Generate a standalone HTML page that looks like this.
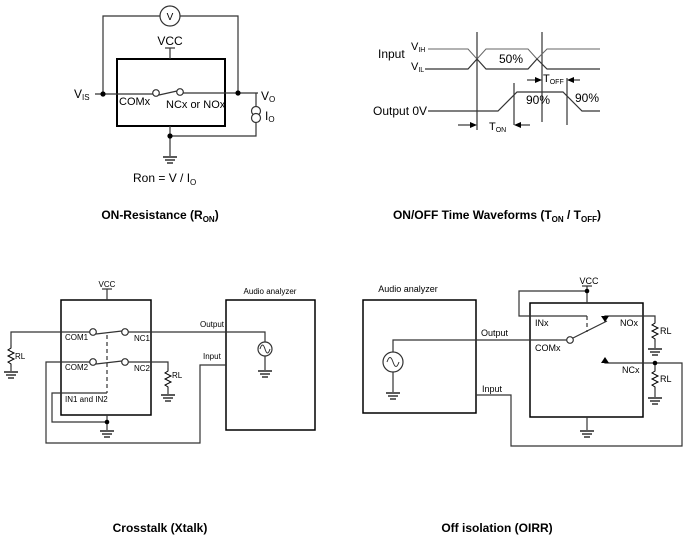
<!DOCTYPE html>
<html><head><meta charset="utf-8"><style>
html,body{margin:0;padding:0;background:#fff;}
svg{display:block;font-family:"Liberation Sans",Arial,sans-serif;}
</style></head><body>
<svg width="694" height="538" viewBox="0 0 694 538" xmlns="http://www.w3.org/2000/svg">
<defs>
<g id="gnd"><line x1="-7" y1="0" x2="7" y2="0" stroke="#000" stroke-width="1.3"/><line x1="-5" y1="3" x2="5" y2="3" stroke="#000" stroke-width="1.2"/><line x1="-3" y1="6" x2="3" y2="6" stroke="#000" stroke-width="1.2"/></g>
<g id="res"><polyline points="0,0 0,3 -3,5 3,8 -3,11 3,14 -3,17 0,19 0,22" fill="none" stroke="#000" stroke-width="1"/></g>
</defs>
<g fill="none" stroke="#333" stroke-width="1.2">
<polyline points="103,94 103,16 160,16"/><polyline points="180,16 238,16 238,94"/>
<circle cx="170" cy="16" r="10" fill="#fff"/>
<rect x="117" y="59" width="108" height="67" stroke="#000" stroke-width="2"/>
<line x1="170" y1="48" x2="170" y2="59"/><line x1="165" y1="48" x2="175" y2="48"/>
<line x1="95" y1="94" x2="153" y2="94"/><line x1="183" y1="93" x2="258" y2="93"/>
<circle cx="156" cy="93" r="3.3"/><circle cx="180" cy="92" r="3.3"/><line x1="159" y1="95" x2="177" y2="91"/>
<polyline points="256,93 256,136 170,136"/>
<circle cx="256" cy="111" r="4.5" fill="#fff"/><circle cx="256" cy="118" r="4.5" fill="#fff"/>
<line x1="170" y1="126" x2="170" y2="156"/>
<line x1="477" y1="32" x2="477" y2="130"/><line x1="542" y1="32" x2="542" y2="122"/>
<polyline points="428,49 468,49 477,59 486,49 528,49 537,59 547,49 600,49" stroke="#666" stroke-width="1"/>
<polyline points="425,69 468,69 477,59 486,69 528,69 537,59 547,69 600,69" stroke="#333"/>
<polyline points="428,111 498,111 517,92 563,92 582,111 600,111"/>
<line x1="514" y1="83" x2="514" y2="125"/><line x1="567" y1="78" x2="567" y2="125"/>
<line x1="458" y1="125" x2="474" y2="125"/><line x1="518" y1="125" x2="530" y2="125"/>
<line x1="527" y1="80" x2="539" y2="80"/><line x1="570" y1="80" x2="580" y2="80"/>
<rect x="61" y="300" width="90" height="115" stroke="#000" stroke-width="1.5"/>
<rect x="226" y="300" width="89" height="130" stroke="#000" stroke-width="1.5"/>
<line x1="107" y1="289" x2="107" y2="300"/><line x1="102" y1="289" x2="112" y2="289"/>
<polyline points="11,345 11,332 90,332"/><circle cx="93" cy="332" r="3.3"/><circle cx="125" cy="332" r="3.3"/><line x1="96" y1="334" x2="122" y2="331"/>
<polyline points="128,332 265,332 265,342"/><circle cx="265" cy="349" r="7"/><line x1="265" y1="356" x2="265" y2="370"/>
<polyline points="90,362 46,362 46,443 200,443 200,365 226,365"/>
<circle cx="93" cy="362" r="3.3"/><circle cx="125" cy="362" r="3.3"/><line x1="96" y1="364" x2="122" y2="361"/>
<polyline points="128,362 168,362 168,368"/>
<line x1="107" y1="335" x2="107" y2="393" stroke-dasharray="4,3"/>
<polyline points="107,393 52,393 52,422 107,422"/><line x1="107" y1="415" x2="107" y2="430"/>
<rect x="363" y="300" width="113" height="113" stroke="#000" stroke-width="1.5"/>
<rect x="530" y="303" width="113" height="114" stroke="#000" stroke-width="1.5"/>
<circle cx="393" cy="362" r="10"/><polyline points="393,352 393,340 567,340"/><line x1="393" y1="372" x2="393" y2="392"/>
<circle cx="570" cy="340" r="3.3"/><line x1="573" y1="338" x2="607" y2="321"/>
<polyline points="476,395 511,395 511,446 682,446 682,363 605,363 605,358"/>
<line x1="587" y1="286" x2="587" y2="303"/><line x1="582" y1="286" x2="592" y2="286"/>
<polyline points="587,291 519,291 519,316 587,316"/><line x1="587" y1="316" x2="587" y2="332" stroke-dasharray="4,3"/>
<polyline points="605,322 605,316 655,316 655,320"/>
<line x1="655" y1="363" x2="655" y2="368"/>
<line x1="587" y1="417" x2="587" y2="430"/>
<line x1="655" y1="342" x2="655" y2="348"/><line x1="655" y1="390" x2="655" y2="397"/>
<line x1="11" y1="367" x2="11" y2="371"/><line x1="168" y1="390" x2="168" y2="394"/>
</g>
<path d="M387,362 q3,-9 6,0 q3,9 6,0" fill="none" stroke="#333"/>
<path d="M260,349 q2.5,-8 5,0 q2.5,8 5,0" fill="none" stroke="#333"/>
<g fill="#000">
<circle cx="103" cy="94" r="2.6"/><circle cx="238" cy="93" r="2.6"/><circle cx="170" cy="136" r="2.6"/>
<circle cx="107" cy="422" r="2.3"/><circle cx="587" cy="291" r="2.3"/><circle cx="655" cy="363" r="2.3"/>
<polygon points="477,125 470,122 470,128"/><polygon points="514,125 521,122 521,128"/>
<polygon points="542,80 535,77 535,83"/><polygon points="567,80 574,77 574,83"/>
<polygon points="605,322 601,316 609,316"/><polygon points="605,357 601,363 609,363"/>
</g>
<use href="#gnd" x="170" y="157"/><use href="#gnd" x="265" y="371"/><use href="#gnd" x="11" y="372"/><use href="#gnd" x="168" y="395"/>
<use href="#gnd" x="107" y="431"/><use href="#gnd" x="393" y="393"/><use href="#gnd" x="587" y="431"/>
<use href="#gnd" x="655" y="349"/><use href="#gnd" x="655" y="398"/>
<use href="#res" x="11" y="345"/><use href="#res" x="168" y="368"/><use href="#res" x="655" y="320"/><use href="#res" x="655" y="368"/>
<g fill="#000" font-size="12">
<text x="170" y="20" font-size="10" text-anchor="middle">V</text>
<text x="170" y="45" text-anchor="middle">VCC</text>
<text x="74" y="98">V<tspan font-size="8" dy="2">IS</tspan></text>
<text x="119" y="105" font-size="11">COMx</text>
<text x="166" y="108" font-size="11">NCx or NOx</text>
<text x="261" y="100">V<tspan font-size="8" dy="2">O</tspan></text>
<text x="265" y="120">I<tspan font-size="8" dy="2">O</tspan></text>
<text x="133" y="182">Ron = V / I<tspan font-size="8" dy="3">O</tspan></text>
<text x="160" y="219" font-weight="bold" text-anchor="middle">ON-Resistance (R<tspan font-size="8" dy="3">ON</tspan><tspan dy="-3">)</tspan></text>
<text x="378" y="58">Input</text>
<text x="411" y="50" font-size="11">V<tspan font-size="7" dy="2">IH</tspan></text>
<text x="411" y="70" font-size="11">V<tspan font-size="7" dy="2">IL</tspan></text>
<text x="499" y="63">50%</text>
<text x="543" y="82" font-size="11">T<tspan font-size="7" dy="2">OFF</tspan></text>
<text x="526" y="104">90%</text>
<text x="575" y="102">90%</text>
<text x="373" y="115">Output  0V</text>
<text x="489" y="130" font-size="11">T<tspan font-size="7" dy="2">ON</tspan></text>
<text x="497" y="219" font-weight="bold" text-anchor="middle">ON/OFF Time Waveforms (T<tspan font-size="8" dy="3">ON</tspan><tspan dy="-3"> / T</tspan><tspan font-size="8" dy="3">OFF</tspan><tspan dy="-3">)</tspan></text>
<g font-size="8">
<text x="107" y="287" text-anchor="middle">VCC</text>
<text x="270" y="294" text-anchor="middle">Audio analyzer</text>
<text x="65" y="340">COM1</text><text x="134" y="341">NC1</text>
<text x="65" y="370">COM2</text><text x="134" y="371">NC2</text>
<text x="65" y="402">IN1 and IN2</text>
<text x="15" y="359">RL</text><text x="172" y="378">RL</text>
<text x="200" y="327">Output</text><text x="203" y="359">Input</text>
</g>
<g font-size="9">
<text x="408" y="292" text-anchor="middle">Audio analyzer</text>
<text x="589" y="284" text-anchor="middle">VCC</text>
<text x="535" y="326">INx</text><text x="620" y="326">NOx</text>
<text x="535" y="351">COMx</text><text x="622" y="373">NCx</text>
<text x="481" y="336">Output</text><text x="482" y="392">Input</text>
<text x="660" y="334">RL</text><text x="660" y="382">RL</text>
</g>
<text x="160" y="532" font-weight="bold" text-anchor="middle">Crosstalk (Xtalk)</text>
<text x="497" y="532" font-weight="bold" text-anchor="middle">Off isolation (OIRR)</text>
</g>
</svg>
</body></html>
